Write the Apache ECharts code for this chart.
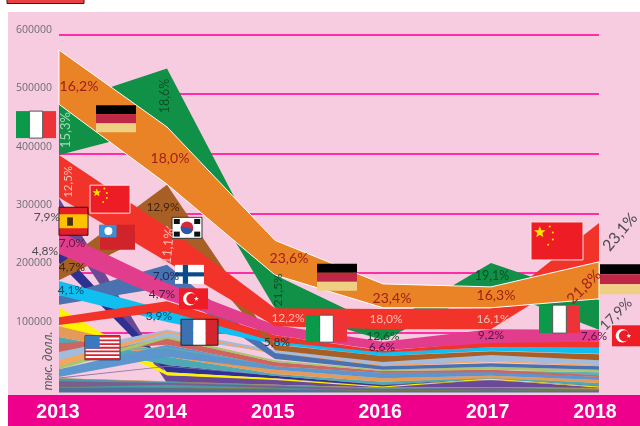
<!DOCTYPE html>
<html><head><meta charset="utf-8">
<style>html,body{margin:0;padding:0;background:#fff}#c{width:640px;height:426px}</style>
<script src="https://cdn.jsdelivr.net/npm/echarts@6/dist/echarts.min.js"></script>
</head><body><div id="c"></div>
<script>
const years = [2013, 2014, 2015, 2016, 2017, 2018];
const yTickLabels = ['100000', '200000', '300000', '400000', '500000', '600000'];
const unitLabel = 'тыс. долл.';

// Upper and lower edge of each ribbon, thousand USD
const germanyTop = [574, 445, 255, 182, 177, 219];
const germanyLow = [483, 349, 197, 142, 142, 157];
const italyTop = [483, 543, 197, 110, 217, 155];
const italyLow = [398, 445, 141, 88, 175, 105];
const chinaTop = [398, 277, 141, 140, 141, 284];
const chinaLow = [327, 219, 111, 106, 106, 219];
const koreaTop = [214, 348, 80, 61, 69, 64];
const koreaLow = [188, 279, 71, 51, 63, 54];
const turkeyTop = [270, 183, 113, 85, 106, 105];
const turkeyLow = [232, 155, 96, 71, 83, 85];
const spainTop = [326, 29, 23, 13, 21, 9];
const spainLow = [282, 16, 13, 8, 9, 7];
const taiwanTop = [242, 46, 28, 13, 24, 12];
const taiwanLow = [217, 34, 24, 11, 23, 10];
const usaTop = [143, 34, 23.5, 10.2, 24.3, 10.4];
const usaLow = [113, 29, 21, 8.5, 21.8, 8.5];
const finlandTop = [162, 214, 66, 44, 49, 44];
const finlandLow = [147, 177, 56, 38, 43, 38];
const cyanTop = [187, 138, 91, 68, 76, 75];
const cyanLow = [163, 118, 81, 61, 70, 65];
const redStripTop = [126, 153, 96, 70, 85, 85];
const redStripLow = [113, 136, 85, 67, 76, 75];
const amberTop = [111, 68, 38, 24, 28, 21];
const amberLow = [93, 60, 31, 18, 24, 16];
const tealTop = [93, 60, 31, 18, 26, 16];
const tealLow = [83, 46, 28, 13, 23, 11];
const salmonTop = [83, 91, 51, 36, 38, 29];
const salmonLow = [68, 80, 44, 33, 34, 26];
const aquaTop = [70, 76, 46, 35, 37, 34];
const aquaLow = [68, 74, 44.5, 33, 35, 29];
const skyTop = [68, 105, 71, 53, 64, 54];
const skyLow = [53, 93, 66, 44, 53, 46];
const peachTop = [54, 103, 66, 46, 53, 46];
const peachLow = [44, 100, 64.5, 44, 51, 44];
const limeTop = [46, 95, 54, 38, 43, 38];
const limeLow = [39, 90, 51, 36, 38, 34];
const azureTop = [39, 80, 44, 33, 36, 26];
const azureLow = [26, 60, 38, 24, 28, 21];
const threadTop = [25, 44.5, 29, 13, 21, 11];
const threadLow = [23.5, 43, 28, 12, 20, 10];
const deepTealTop = [24, 18, 13, 8, 9, 7];
const deepTealLow = [9, 8, 6, 3, 4, 3];
const baseTop = [9, 8, 6, 3, 4, 3];
const baseLow = [0, 0, 0, 0, 0, 0];
const plumTop = [19, 16, 11, 6, 8, 4];
const plumLow = [9, 13, 8, 3, 4, 3];
const tanTop = [24, 19, 13, 8, 9, 8];
const tanLow = [23, 18, 12, 7, 8, 6];
const oliveTop = [10, 8.4, 6.7, 3.4, 5, 3.4];
const oliveLow = [9, 7.2, 5.5, 2.2, 3.8, 2.2];

const ribbons = [
  [spainTop, spainLow, '#6a4a96'],
  [taiwanTop, taiwanLow, '#2e3192'],
  [usaTop, usaLow, '#fff200'],
  [threadTop, threadLow, '#8a78a8'],
  [baseTop, baseLow, '#4d7297'],
  [deepTealTop, deepTealLow, '#4f98a6'],
  [plumTop, plumLow, '#7b5d90'],
  [tanTop, tanLow, '#c08a4a'],
  [oliveTop, oliveLow, '#6f7a3a'],
  [tealTop, tealLow, '#4fa8b5'],
  [amberTop, amberLow, '#e59b57'],
  [azureTop, azureLow, '#5c96cc'],
  [aquaTop, aquaLow, '#5fb0b5'],
  [salmonTop, salmonLow, '#cc6660'],
  [limeTop, limeLow, '#a8c56f'],
  [skyTop, skyLow, '#a3bcdc'],
  [peachTop, peachLow, '#f5a55c'],
  [finlandTop, finlandLow, '#4a72b0'],
  [cyanTop, cyanLow, '#10bff0'],
  [redStripTop, redStripLow, '#f1332a'],
  [koreaTop, koreaLow, '#a85f25'],
  [turkeyTop, turkeyLow, '#e23d8c'],
  [italyTop, italyLow, '#119048'],
  [chinaTop, chinaLow, '#f1332a'],
  [germanyTop, germanyLow, '#e98325', '#ffffff']
];

// Percent labels: text, year, value (thousands), then pixel nudge, rotation, colour, size
const red = '#a01f16', grey = '#4d4e50', dkg = '#0a4f28', pink = '#fcc0b6';
const percentLabels = [
  ['16,2%', 2013, 513, 20, 0, red, 14], ['15,3%', 2013, 440, 7, 90, '#a5dcb8', 13],
  ['18,6%', 2014, 497, -2, 90, dkg, 12.5], ['18,0%', 2014, 393, 3, 0, red, 14],
  ['12,5%', 2013, 353, 9, 90, pink, 11.5], ['12,9%', 2014, 311, -4, 0, '#40240c', 12],
  ['11,1%', 2014, 245, 1, 85, pink, 13], ['7,9%', 2013, 294, -12, 0, grey, 12],
  ['4,8%', 2013, 237, -14, 0, grey, 12], ['7,0%', 2013, 250, 13, 0, '#6a1245', 12],
  ['4,7%', 2013, 210, 13, 0, '#40240c', 12], ['4,1%', 2013, 172, 12, 0, '#064c68', 12],
  ['7,0%', 2014, 195, -1, 0, '#1d2c5c', 12], ['4,7%', 2014, 165, -5, 0, '#4c2040', 12],
  ['3,9%', 2014, 128, -8, 0, '#064c68', 12], ['23,6%', 2015, 224, 14, 0, red, 14],
  ['21,5%', 2015, 172, 3, 90, dkg, 12], ['12,2%', 2015, 125, 13, 0, pink, 12],
  ['5,8%', 2015, 85, 2, 0, '#303030', 12], ['23,4%', 2016, 158, 9, 0, red, 14],
  ['18,0%', 2016, 123, 3, 0, pink, 12], ['12,6%', 2016, 95, 0, 0, dkg, 12],
  ['6,6%', 2016, 76, -1, 0, '#5c1245', 12], ['19,1%', 2017, 195, 1, 0, dkg, 12.5],
  ['16,3%', 2017, 163, 5, 0, red, 14], ['16,1%', 2017, 123, 2, 0, pink, 12],
  ['9,2%', 2017, 96, 0, 0, '#5c1245', 12], ['21,8%', 2018, 177, -15, 45, red, 15],
  ['23,1%', 2018, 269, 21, 50, grey, 16], ['17,9%', 2018, 131, 17, 45, grey, 14],
  ['7,6%', 2018, 95, -5, 0, '#5c1245', 12]
];

// Flags: kind, year, value (thousands), pixel nudge, width, height
const flagPlacements = [
  ['it', 2013, 449, -23, 40, 27], ['de', 2013, 459, 57, 40, 27], ['cn', 2013, 324, 51, 40, 28],
  ['es', 2013, 287, 14.5, 29, 28], ['tw', 2013, 260, 58.5, 35, 25], ['kr', 2014, 276, 20, 30, 21],
  ['fi', 2014, 198, 22.5, 29, 19], ['tr', 2014, 157, 26.5, 29, 21], ['fr', 2014, 101, 32.5, 37, 26],
  ['us', 2013, 75, 43.5, 35, 24], ['de', 2015, 193, 62, 40, 27], ['it', 2015, 107, 51.5, 41, 27],
  ['cn', 2018, 254, -42, 52, 38], ['it', 2018, 123, -39.5, 41, 28], ['de', 2018, 190, 21, 40, 30],
  ['tr', 2018, 95, 27, 28, 21]
];

const rect = (x, y, w, h, fill, stroke) => ({type: 'rect', shape: {x, y, width: w, height: h}, style: {fill, stroke: stroke || null, lineWidth: stroke ? 1 : 0}, silent: true});
const circle = (cx, cy, r, fill) => ({type: 'circle', shape: {cx, cy, r}, style: {fill}, silent: true});
function star(cx, cy, r, fill) {
  const pts = [];
  for (let i = 0; i < 10; i++) {
    const a = -Math.PI / 2 + i * Math.PI / 5, q = i % 2 ? r * 0.42 : r;
    pts.push([cx + q * Math.cos(a), cy + q * Math.sin(a)]);
  }
  return {type: 'polygon', shape: {points: pts}, style: {fill}, silent: true};
}
function drawFlag(k, x, y, w, h) {
  const c = [];
  if (k === 'it') {
    c.push(rect(x, y, w / 3, h, '#0a9a4a'), rect(x + 2 * w / 3, y, w / 3, h, '#ee3338'), rect(x + w / 3, y, w / 3, h, '#ffffff', '#555'));
  } else if (k === 'de') {
    c.push(rect(x, y, w, h / 3, '#000000'), rect(x, y + h / 3, w, h / 3, '#be2846'), rect(x, y + 2 * h / 3, w, h / 3, '#efd083'));
  } else if (k === 'cn') {
    c.push(rect(x, y, w, h, '#ee1c25', '#fbe3e3'), star(x + w * 0.17, y + h * 0.27, h * 0.16, '#ffe600'));
    [[0.36, 0.12], [0.42, 0.28], [0.42, 0.46], [0.33, 0.6]].forEach(p => c.push(circle(x + w * p[0], y + h * p[1], 1, '#ffe600')));
  } else if (k === 'es') {
    c.push(rect(x, y, w, h, '#e21f26', '#3a1010'), rect(x + 0.5, y + h / 4, w - 1, h / 2, '#fdc300'), rect(x + w * 0.28, y + h * 0.36, w * 0.2, h * 0.3, '#4a3010'));
  } else if (k === 'tw') {
    c.push(rect(x, y, w, h, '#d1232a'), rect(x - 1, y, w / 2, h / 2, '#3c8fd0'), circle(x + w * 0.24, y + h * 0.25, h * 0.16, '#ffffff'));
  } else if (k === 'kr') {
    c.push(rect(x, y, w, h, '#ffffff', '#333333'));
    c.push(circle(x + w / 2, y + h / 2, h * 0.3, '#d42a3c'));
    c.push({type: 'sector', shape: {cx: x + w / 2, cy: y + h / 2, r: h * 0.3, startAngle: 0.2, endAngle: Math.PI + 0.2}, style: {fill: '#2a5aa5'}, silent: true});
    [[0.16, 0.2], [0.84, 0.2], [0.16, 0.8], [0.84, 0.8]].forEach(p => c.push(rect(x + w * p[0] - 3, y + h * p[1] - 2.5, 6, 5, '#111111')));
  } else if (k === 'fi') {
    c.push(rect(x, y, w, h, '#ffffff'), rect(x + w * 0.27, y, w * 0.18, h, '#0b4a8a'), rect(x, y + h * 0.39, w, h * 0.22, '#0b4a8a'));
  } else if (k === 'tr') {
    c.push(rect(x, y, w, h, '#ee1c25'), circle(x + w * 0.37, y + h / 2, h * 0.32, '#ffffff'), circle(x + w * 0.44, y + h / 2, h * 0.26, '#ee1c25'), star(x + w * 0.6, y + h / 2, h * 0.12, '#ffffff'));
  } else if (k === 'fr') {
    c.push(rect(x, y, w / 3, h, '#3a72b4'), rect(x + w / 3, y, w / 3, h, '#ffffff'), rect(x + 2 * w / 3, y, w / 3, h, '#d4262e'), rect(x, y, w, h, 'rgba(0,0,0,0)', '#222222'));
  } else if (k === 'us') {
    c.push(rect(x, y, w, h, '#ffffff', '#222222'));
    for (let i = 0; i < 7; i++) c.push(rect(x, y + i * h * 2 / 13, w, h / 13, '#d22630'));
    c.push(rect(x, y, w * 0.42, h * 0.54, '#3a78c0'));
  }
  return c;
}

const series = ribbons.map(([top, low, color, edge]) => ({
  type: 'custom', coordinateSystem: 'cartesian2d', xAxisIndex: 0, yAxisIndex: 0, silent: true,
  data: years.map((yr, i) => [yr, low[i] * 1000, top[i] * 1000]),
  encode: {x: 0, y: [1, 2]},
  renderItem(params, api) {
    if (params.dataIndex !== 0) return null;
    const up = years.map((yr, i) => api.coord([yr, top[i] * 1000]));
    const down = years.map((yr, i) => api.coord([yr, low[i] * 1000])).reverse();
    return {type: 'polygon', shape: {points: up.concat(down)}, style: {fill: color, stroke: edge || null, lineWidth: edge ? 1 : 0}};
  }
}));

series.push({
  type: 'custom', coordinateSystem: 'cartesian2d', xAxisIndex: 0, yAxisIndex: 0, silent: true,
  data: flagPlacements.map(f => [f[1], f[2] * 1000]),
  encode: {x: 0, y: 1},
  renderItem(params, api) {
    const f = flagPlacements[params.dataIndex];
    const p = api.coord([f[1], f[2] * 1000]);
    return {type: 'group', children: drawFlag(f[0], p[0] + f[3] - f[4] / 2, p[1] - f[5] / 2, f[4], f[5])};
  }
});

series.push({
  type: 'custom', coordinateSystem: 'cartesian2d', xAxisIndex: 0, yAxisIndex: 0, silent: true,
  data: percentLabels.map(l => [l[1], l[2] * 1000]),
  encode: {x: 0, y: 1},
  renderItem(params, api) {
    const l = percentLabels[params.dataIndex];
    const p = api.coord([l[1], l[2] * 1000]);
    return {type: 'text', x: p[0] + l[3], y: p[1], rotation: l[4] * Math.PI / 180,
      style: {text: l[0], fill: l[5], font: l[6] + 'px Lato, sans-serif', align: 'center', verticalAlign: 'middle'}};
  }
});

const chart = echarts.init(document.getElementById('c'), null, {renderer: 'canvas'});
chart.setOption({
  animation: false,
  backgroundColor: '#ffffff',
  graphic: [
    {type: 'rect', z: -10, shape: {x: 8, y: 12, width: 632, height: 383}, style: {fill: '#f7cbe0'}},
    {type: 'rect', z: -10, shape: {x: 8, y: 395, width: 632, height: 31}, style: {fill: '#ee008c'}},
    {type: 'rect', z: -10, shape: {x: 7, y: -2, width: 77, height: 5.5}, style: {fill: '#e8413f', stroke: '#3a1a1a', lineWidth: 1}},
    {type: 'text', z: 10, x: 48, y: 361, rotation: Math.PI / 2,
      style: {text: unitLabel, fill: '#58595b', font: 'italic 12.5px Lato, sans-serif', align: 'center', verticalAlign: 'middle'}}
  ],
  grid: [
    {left: 59, top: 34.5, width: 540, height: 358},
    {left: 58, top: 30, width: 537, height: 350}
  ],
  xAxis: [
    {gridIndex: 0, type: 'value', min: 2013, max: 2018, interval: 1, axisLine: {show: false}, axisTick: {show: false}, splitLine: {show: false}, axisLabel: {show: false}},
    {gridIndex: 1, type: 'value', min: 2013, max: 2018, interval: 1, axisLine: {show: false}, axisTick: {show: false}, splitLine: {show: false},
      axisLabel: {margin: 23, color: '#ffffff', fontFamily: '"Liberation Sans", sans-serif', fontWeight: 'bold', fontSize: 19.5, formatter: v => String(v), showMinLabel: true, showMaxLabel: true, hideOverlap: false}}
  ],
  yAxis: [
    {gridIndex: 0, type: 'value', min: 0, max: 600000, interval: 100000, axisLine: {show: false}, axisTick: {show: false}, axisLabel: {show: false},
      splitLine: {show: true, showMinLine: false, lineStyle: {color: '#ff2ea6', width: 2}}},
    {gridIndex: 1, type: 'value', min: 0, max: 600000, interval: 100000, axisLine: {show: false}, axisTick: {show: false}, splitLine: {show: false},
      axisLabel: {margin: 6, color: '#6d6e71', fontFamily: '"Open Sans", sans-serif', fontSize: 10.5, formatter: v => yTickLabels[v / 100000 - 1] || ''}}
  ],
  series
});
</script></body></html>
